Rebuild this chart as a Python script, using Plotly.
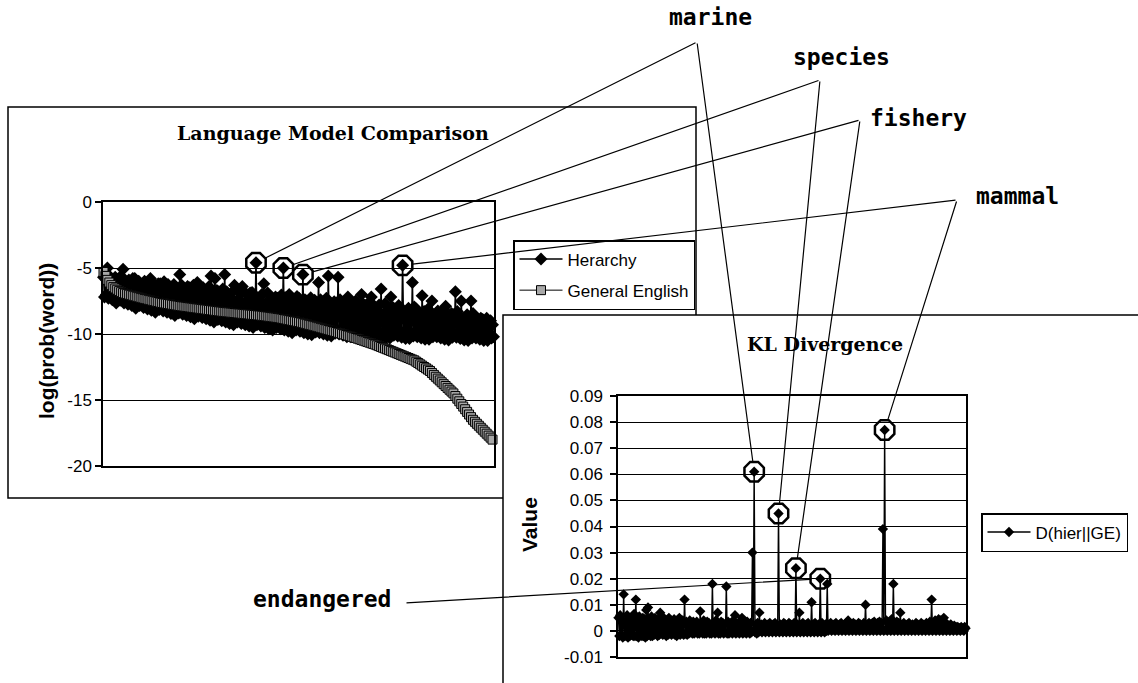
import plotly.graph_objects as go

W, H = 1138, 683

# ---------------- data ----------------
word_rank = list(range(1, 401))          # words ordered by General-English probability
ge_rank = list(range(1, 401, 2))         # ranks at which the GE curve was read

hierarchy = [
    -5.7, -7.2, -5.4, -7.0, -5.0, -7.3, -5.6, -6.9, -5.9, -7.4,
    -6.2, -7.35, -5.7, -7.65, -5.9, -7.25, -6.4, -7.45, -5.6, -7.15,
    -5.1, -7.65, -6.2, -7.45, -6.6, -7.75, -5.9, -7.35, -6.0, -7.85,
    -5.8, -7.75, -5.8, -8.05, -6.5, -7.65, -6.0, -7.85, -6.3, -7.55,
    -6.5, -8.0, -6.0, -7.8, -6.2, -8.1, -6.7, -7.7, -5.8, -8.2,
    -6.1, -8.05, -6.5, -8.35, -6.9, -7.95, -6.2, -8.15, -6.2, -7.85,
    -6.35, -8.25, -6.05, -8.05, -6.75, -8.35, -6.25, -7.95, -6.55, -8.45,
    -6.75, -8.3, -6.25, -8.6, -6.45, -8.2, -6.95, -8.4, -5.5, -8.1,
    -6.3, -8.5, -6.7, -8.3, -7.1, -8.6, -6.4, -8.2, -6.5, -8.7,
    -6.6, -8.55, -6.3, -8.85, -7.0, -8.45, -6.1, -8.65, -6.8, -8.35,
    -7.0, -8.75, -6.5, -8.55, -6.7, -8.85, -7.2, -8.45, -6.4, -8.95,
    -5.6, -8.8, -7.0, -9.1, -5.8, -8.7, -6.7, -8.9, -6.8, -8.6,
    -6.9, -9.0, -6.6, -8.8, -5.5, -9.1, -6.8, -8.7, -7.1, -9.2,
    -7.3, -9.0, -6.8, -9.3, -6.3, -8.9, -7.5, -9.1, -6.7, -8.8,
    -6.85, -9.2, -6.4, -9.0, -7.65, -9.3, -6.95, -8.9, -7.05, -9.4,
    -6.9, -9.2, -6.85, -9.5, -7.55, -9.1, -4.6, -9.3, -7.35, -9.0,
    -7.5, -9.4, -7.0, -9.2, -6.2, -9.5, -7.7, -9.1, -6.9, -9.6,
    -7.1, -9.4, -7.5, -9.7, -7.9, -9.3, -7.2, -9.5, -7.3, -9.2,
    -7.35, -9.6, -7.05, -9.4, -5.0, -9.7, -7.25, -9.3, -7.55, -9.8,
    -7.0, -9.6, -7.25, -9.9, -7.45, -9.5, -7.95, -9.7, -7.15, -9.4,
    -7.3, -9.8, -7.7, -9.6, -5.5, -9.9, -7.4, -9.5, -7.5, -10.0,
    -7.55, -9.75, -7.25, -10.05, -7.95, -9.65, -7.45, -9.85, -7.75, -9.55,
    -6.1, -9.9, -7.4, -9.7, -7.6, -10.0, -8.1, -9.6, -7.3, -10.1,
    -5.6, -9.85, -7.85, -10.15, -8.25, -9.75, -7.55, -9.95, -7.65, -9.65,
    -5.7, -10.0, -7.4, -9.8, -8.1, -10.1, -7.6, -9.7, -7.9, -10.2,
    -7.2, -9.9, -7.6, -10.2, -7.8, -9.8, -8.3, -10.0, -7.5, -9.7,
    -7.65, -10.05, -8.05, -9.85, -7.0, -10.15, -7.75, -9.75, -7.85, -10.25,
    -7.9, -9.95, -7.6, -10.25, -7.2, -9.85, -7.8, -10.05, -8.1, -9.75,
    -8.3, -10.1, -7.8, -9.9, -6.6, -10.2, -8.5, -9.8, -7.7, -10.3,
    -7.9, -10.0, -8.3, -10.3, -7.2, -9.9, -8.0, -10.1, -8.1, -9.8,
    -8.15, -10.15, -7.85, -9.95, -8.55, -10.25, -4.8, -9.85, -8.35, -10.35,
    -8.55, -10.05, -8.05, -10.35, -8.25, -9.95, -6.1, -10.15, -7.95, -9.85,
    -8.1, -10.2, -8.5, -10.0, -8.9, -10.3, -7.1, -9.9, -8.3, -10.4,
    -8.4, -10.1, -8.1, -10.4, -8.8, -10.0, -7.5, -10.2, -8.6, -9.9,
    -8.75, -10.2, -8.25, -10.0, -8.45, -10.3, -8.95, -9.9, -8.15, -10.4,
    -7.9, -10.15, -8.75, -10.45, -9.15, -10.05, -8.45, -10.25, -8.55, -9.95,
    -6.8, -10.25, -8.3, -10.05, -9.0, -10.35, -7.5, -9.95, -8.8, -10.45,
    -9.05, -10.2, -8.55, -10.5, -8.75, -10.1, -7.5, -10.3, -8.45, -10.0,
    -8.7, -10.3, -9.1, -10.1, -9.5, -10.4, -8.8, -10.0, -8.9, -10.5,
    -9.1, -10.2, -8.8, -10.5, -9.5, -10.1, -9.0, -10.3, -9.3, -10.2,
]

general_english = [
    -5.3, -5.6, -5.9, -6.1, -6.3, -6.45, -6.55, -6.65, -6.75, -6.83,
    -6.9, -6.94, -6.98, -7.02, -7.06, -7.1, -7.14, -7.18, -7.22, -7.26,
    -7.3, -7.34, -7.37, -7.41, -7.44, -7.48, -7.51, -7.55, -7.58, -7.62,
    -7.65, -7.68, -7.7, -7.73, -7.75, -7.78, -7.8, -7.83, -7.85, -7.88,
    -7.9, -7.92, -7.94, -7.96, -7.98, -8.0, -8.02, -8.04, -8.06, -8.08,
    -8.1, -8.12, -8.14, -8.16, -8.18, -8.2, -8.22, -8.24, -8.26, -8.28,
    -8.3, -8.32, -8.33, -8.35, -8.36, -8.38, -8.39, -8.41, -8.42, -8.44,
    -8.45, -8.47, -8.48, -8.5, -8.51, -8.53, -8.54, -8.56, -8.57, -8.59,
    -8.6, -8.62, -8.64, -8.66, -8.68, -8.7, -8.72, -8.74, -8.76, -8.78,
    -8.8, -8.83, -8.86, -8.89, -8.92, -8.95, -8.98, -9.01, -9.04, -9.07,
    -9.1, -9.14, -9.18, -9.22, -9.26, -9.3, -9.33, -9.37, -9.41, -9.45,
    -9.49, -9.53, -9.57, -9.61, -9.65, -9.69, -9.73, -9.77, -9.81, -9.85,
    -9.9, -9.94, -9.99, -10.03, -10.08, -10.12, -10.17, -10.21, -10.26, -10.3,
    -10.35, -10.4, -10.45, -10.5, -10.55, -10.6, -10.65, -10.7, -10.75, -10.8,
    -10.86, -10.92, -10.98, -11.04, -11.1, -11.16, -11.22, -11.28, -11.34, -11.4,
    -11.46, -11.52, -11.58, -11.64, -11.7, -11.76, -11.82, -11.88, -11.94, -12.0,
    -12.1, -12.2, -12.3, -12.4, -12.5, -12.6, -12.7, -12.8, -12.95, -13.1,
    -13.24, -13.38, -13.52, -13.66, -13.8, -13.94, -14.08, -14.22, -14.36, -14.5,
    -14.7, -14.9, -15.1, -15.3, -15.5, -15.7, -15.9, -16.1, -16.3, -16.5,
    -16.65, -16.8, -16.95, -17.1, -17.25, -17.4, -17.55, -17.7, -17.85, -18.0,
]

kl_divergence = [
    0.005, -0.002, 0.006, -0.0015, 0.004, -0.0025, 0.014, -0.002, 0.0035, -0.002,
    0.006, -0.0025, 0.0045, -0.002, 0.005, -0.0015, 0.004, -0.002, 0.0065, -0.002,
    0.012, -0.002, 0.004, -0.0025, 0.0055, -0.0015, 0.003, -0.002, 0.005, -0.002,
    0.0045, -0.0025, 0.008, -0.002, 0.009, -0.0015, 0.004, -0.002, 0.0055, -0.002,
    0.004, -0.0015, 0.005, -0.001, 0.003, -0.002, 0.0045, -0.0015, 0.007, -0.001,
    0.0035, -0.0015, 0.005, -0.001, 0.003, -0.002, 0.004, -0.0015, 0.005, -0.001,
    0.004, -0.0015, 0.0025, -0.001, 0.0045, -0.0015, 0.0035, -0.002, 0.004, -0.001,
    0.005, -0.0015, 0.003, -0.001, 0.004, -0.0015, 0.012, -0.001, 0.0035, -0.0015,
    0.003, -0.001, 0.004, -0.0005, 0.0025, -0.001, 0.0035, -0.001, 0.002, -0.0005,
    0.0035, -0.001, 0.0025, -0.001, 0.0075, -0.0005, 0.003, -0.001, 0.004, -0.001,
    0.0025, -0.001, 0.0035, -0.0005, 0.003, -0.001, 0.002, -0.001, 0.018, -0.0005,
    0.003, -0.001, 0.004, -0.0005, 0.007, -0.001, 0.0025, -0.001, 0.0035, -0.0005,
    0.003, -0.001, 0.0025, -0.0005, 0.017, -0.001, 0.0035, -0.001, 0.002, -0.0005,
    0.003, -0.001, 0.004, -0.0005, 0.006, -0.001, 0.0025, -0.0005, 0.003, -0.001,
    0.0035, -0.0005, 0.005, -0.001, 0.0025, -0.0005, 0.003, -0.001, 0.0035, -0.0005,
    0.0025, -0.001, 0.003, -0.0005, 0.030, 0.0, 0.061, -0.0005, 0.0025, -0.001,
    0.003, -0.0005, 0.007, 0.0, 0.0025, -0.0005, 0.002, 0.0, 0.003, -0.0005,
    0.002, 0.0, 0.0025, -0.0005, 0.003, 0.0, 0.002, -0.0005, 0.0025, 0.0,
    0.003, -0.0005, 0.002, 0.0, 0.045, -0.0005, 0.0025, 0.0, 0.002, -0.0005,
    0.003, 0.0, 0.0025, -0.0005, 0.002, 0.0, 0.003, -0.0005, 0.0025, 0.0,
    0.002, -0.0005, 0.003, 0.0, 0.024, -0.0005, 0.0025, 0.0, 0.007, -0.0005,
    0.0025, 0.0, 0.003, -0.0005, 0.002, 0.0, 0.0025, -0.0005, 0.003, 0.0,
    0.002, -0.0005, 0.011, 0.0, 0.0025, -0.0005, 0.003, 0.0, 0.002, -0.0005,
    0.0025, 0.0, 0.020, -0.0005, 0.003, 0.0, 0.002, -0.0005, 0.0025, 0.0,
    0.018, 0.0, 0.0025, 0.0005, 0.003, 0.0, 0.002, 0.0005, 0.0025, 0.0,
    0.003, 0.0005, 0.002, 0.0, 0.0025, 0.0005, 0.003, 0.0, 0.002, 0.0005,
    0.0025, 0.0, 0.003, 0.0005, 0.004, 0.0, 0.0025, 0.0005, 0.002, 0.0,
    0.003, 0.0005, 0.0025, 0.0, 0.002, 0.0005, 0.003, 0.0, 0.0025, 0.0005,
    0.002, 0.0, 0.003, 0.0005, 0.010, 0.0, 0.0025, 0.0005, 0.003, 0.0,
    0.0025, 0.0005, 0.003, 0.0, 0.0035, 0.0005, 0.0025, 0.0, 0.003, 0.0005,
    0.0035, 0.0, 0.003, 0.0005, 0.039, 0.0, 0.077, 0.0005, 0.004, 0.0,
    0.003, 0.0005, 0.0035, 0.0, 0.0045, 0.0005, 0.018, 0.0, 0.003, 0.0005,
    0.0035, 0.0, 0.003, 0.0005, 0.007, 0.0, 0.0025, 0.0005, 0.003, 0.0,
    0.002, 0.0005, 0.0025, 0.0, 0.003, 0.0005, 0.002, 0.0, 0.0025, 0.0005,
    0.002, 0.0, 0.003, 0.0005, 0.0025, 0.0, 0.002, 0.0005, 0.003, 0.0,
    0.0025, 0.0005, 0.002, 0.0, 0.003, 0.0005, 0.0025, 0.0, 0.0035, 0.0005,
    0.012, 0.0, 0.003, 0.0005, 0.004, 0.0, 0.0035, 0.0005, 0.0045, 0.0,
    0.004, 0.0005, 0.0035, 0.0, 0.005, 0.0005, 0.003, 0.0, 0.0025, 0.0005,
    0.002, 0.0, 0.0025, 0.0005, 0.0015, 0.0, 0.002, 0.0005, 0.0015, 0.0,
    0.0015, 0.0005, 0.001, 0.0, 0.0015, 0.0005, 0.001, 0.0, 0.0015, 0.001,
]

# highlighted words (rank of the word on the shared x axis)
hl_words = ["marine", "species", "fishery", "mammal"]
hl_ranks = [157, 185, 205, 307]
kl_words = ["marine", "species", "fishery", "endangered", "mammal"]
kl_ranks = [157, 185, 205, 233, 307]

lm_tickvals = [0, -5, -10, -15, -20]
lm_ticktext = ["0", "-5", "-10", "-15", "-20"]
kl_tickvals = [0.09, 0.08, 0.07, 0.06, 0.05, 0.04, 0.03, 0.02, 0.01, 0.0, -0.01]
kl_ticktext = ["0.09", "0.08", "0.07", "0.06", "0.05", "0.04", "0.03", "0.02", "0.01", "0", "-0.01"]

# ---------------- layout geometry (pixels) ----------------
LM_X0, LM_X1, LM_YT, LM_YB = 103, 494, 202, 466
KL_X0, KL_X1, KL_YT, KL_YB = 618, 966, 396, 657
X_RANGE = [0.5, 400.5]
LM_RANGE = [-20, 0]
KL_RANGE = [-0.01, 0.09]


def to_px(xv, yv, x0, x1, yt, yb, yr):
    px = x0 + (xv - X_RANGE[0]) / (X_RANGE[1] - X_RANGE[0]) * (x1 - x0)
    py = yb - (yv - yr[0]) / (yr[1] - yr[0]) * (yb - yt)
    return px, py


def fx(p):
    return p / W


def fy(p):
    return 1 - p / H


lookup = dict(zip(word_rank, range(len(word_rank))))

fig = go.Figure()

fig.add_trace(go.Scatter(
    x=word_rank, y=hierarchy, mode="lines+markers", name="Herarchy",
    line=dict(color="black", width=1.6, simplify=False),
    marker=dict(symbol="diamond", size=10, color="black"),
    xaxis="x", yaxis="y", legend="legend", legendgroup="a", cliponaxis=False))
fig.add_trace(go.Scatter(
    x=ge_rank, y=general_english, mode="lines+markers", name="General English",
    line=dict(color="black", width=1),
    marker=dict(symbol="square", size=9, color="#a8a8a8", line=dict(color="black", width=1)),
    xaxis="x", yaxis="y", legend="legend", legendgroup="b", cliponaxis=False))
fig.add_trace(go.Scatter(
    x=hl_ranks, y=[hierarchy[lookup[r]] for r in hl_ranks], mode="markers",
    marker=dict(symbol="octagon-open", size=21, color="black", line=dict(width=2.5, color="black")),
    xaxis="x", yaxis="y", showlegend=False, cliponaxis=False))

fig.add_trace(go.Scatter(
    x=word_rank, y=kl_divergence, mode="lines+markers", name="D(hier||GE)",
    line=dict(color="black", width=1.4, simplify=False),
    marker=dict(symbol="diamond", size=8, color="black"),
    xaxis="x2", yaxis="y2", legend="legend2", cliponaxis=False))
fig.add_trace(go.Scatter(
    x=kl_ranks, y=[kl_divergence[lookup[r]] for r in kl_ranks], mode="markers",
    marker=dict(symbol="octagon-open", size=21, color="black", line=dict(width=2.5, color="black")),
    xaxis="x2", yaxis="y2", showlegend=False, cliponaxis=False))

tick_font = dict(family="Liberation Sans, Arial", size=17, color="black")
common_x = dict(range=X_RANGE, showticklabels=False, ticks="", showgrid=False, zeroline=False,
                showline=True, mirror=True, linecolor="black", linewidth=1.5)
common_y = dict(showgrid=True, gridcolor="black", gridwidth=1, zeroline=False,
                showline=True, mirror=True, linecolor="black", linewidth=1.5,
                ticks="outside", ticklen=6, tickcolor="black", tickwidth=1.5,
                tickfont=tick_font)

fig.update_layout(
    width=W, height=H, margin=dict(l=0, r=0, t=0, b=0, autoexpand=False), autosize=False,
    paper_bgcolor="white", plot_bgcolor="white",
    xaxis=dict(domain=[fx(LM_X0), fx(LM_X1)], anchor="y", **common_x),
    yaxis=dict(domain=[fy(LM_YB), fy(LM_YT)], anchor="x", range=LM_RANGE,
               tickvals=lm_tickvals, ticktext=lm_ticktext, **common_y),
    xaxis2=dict(domain=[fx(KL_X0), fx(KL_X1)], anchor="y2", **common_x),
    yaxis2=dict(domain=[fy(KL_YB), fy(KL_YT)], anchor="x2", range=KL_RANGE,
                tickvals=kl_tickvals, ticktext=kl_ticktext, ticklabelstandoff=4, **common_y),
    legend=dict(x=fx(513), y=fy(240), xanchor="left", yanchor="top",
                bordercolor="black", borderwidth=1.5, bgcolor="white",
                font=dict(family="Liberation Sans, Arial", size=17, color="black"),
                tracegroupgap=6, itemwidth=43),
    legend2=dict(x=fx(981), y=fy(513), xanchor="left", yanchor="top",
                 bordercolor="black", borderwidth=1.5, bgcolor="white",
                 font=dict(family="Liberation Sans, Arial", size=17, color="black"),
                 itemwidth=43),
    showlegend=True,
)

# boxes around the two charts
fig.add_shape(type="rect", xref="paper", yref="paper", x0=fx(8), x1=fx(696), y0=fy(498), y1=fy(107),
              line=dict(color="black", width=1.5), fillcolor="rgba(0,0,0,0)", layer="below")
fig.add_shape(type="rect", xref="paper", yref="paper", x0=fx(503), x1=fx(1150), y0=fy(700), y1=fy(315),
              line=dict(color="black", width=1.5), fillcolor="white", layer="below")

annots = []
title_font = dict(family="DejaVu Serif", size=19, color="black", weight="bold")
annots.append(dict(text="Language Model Comparison", x=fx(333), y=fy(133), xref="paper", yref="paper",
                   showarrow=False, font=title_font, xanchor="center", yanchor="middle"))
annots.append(dict(text="KL Divergence", x=fx(825), y=fy(344), xref="paper", yref="paper",
                   showarrow=False, font=title_font, xanchor="center", yanchor="middle"))
axis_font = dict(family="Liberation Sans, Arial", size=21, color="black", weight="bold")
annots.append(dict(text="log(prob(word))", x=fx(46), y=fy(341), xref="paper", yref="paper",
                   showarrow=False, font=axis_font, textangle=-90, xanchor="center", yanchor="middle"))
annots.append(dict(text="Value", x=fx(529), y=fy(525), xref="paper", yref="paper",
                   showarrow=False, font=axis_font, textangle=-90, xanchor="center", yanchor="middle"))

label_font = dict(family="DejaVu Sans Mono", size=23, color="black", weight="bold")
label_pos = {"marine": (710, 17), "species": (841, 57), "fishery": (918, 118),
             "mammal": (1017, 196), "endangered": (322, 599)}
vertex_pos = {"marine": (697, 42), "species": (820, 80), "fishery": (860, 120),
              "mammal": (957, 200), "endangered": (405, 603)}
for w, (lx, ly) in label_pos.items():
    annots.append(dict(text=w, x=fx(lx), y=fy(ly), xref="paper", yref="paper", showarrow=False,
                       font=label_font, xanchor="center", yanchor="middle"))

for w, r in zip(hl_words, hl_ranks):
    yv = hierarchy[lookup[r]]
    px, py = to_px(r, yv, LM_X0, LM_X1, LM_YT, LM_YB, LM_RANGE)
    vx, vy = vertex_pos[w]
    annots.append(dict(text="", x=r, y=yv, xref="x", yref="y", showarrow=True, arrowhead=0,
                       arrowwidth=1.2, arrowcolor="black", standoff=10,
                       axref="pixel", ayref="pixel", ax=vx - px, ay=vy - py))
for w, r in zip(kl_words, kl_ranks):
    yv = kl_divergence[lookup[r]]
    px, py = to_px(r, yv, KL_X0, KL_X1, KL_YT, KL_YB, KL_RANGE)
    vx, vy = vertex_pos[w]
    annots.append(dict(text="", x=r, y=yv, xref="x2", yref="y2", showarrow=True, arrowhead=0,
                       arrowwidth=1.2, arrowcolor="black", standoff=10,
                       axref="pixel", ayref="pixel", ax=vx - px, ay=vy - py))

fig.update_layout(annotations=annots)

fig.write_html("out.html", config={"displayModeBar": False},
               post_script="document.body.style.margin='0px';")
